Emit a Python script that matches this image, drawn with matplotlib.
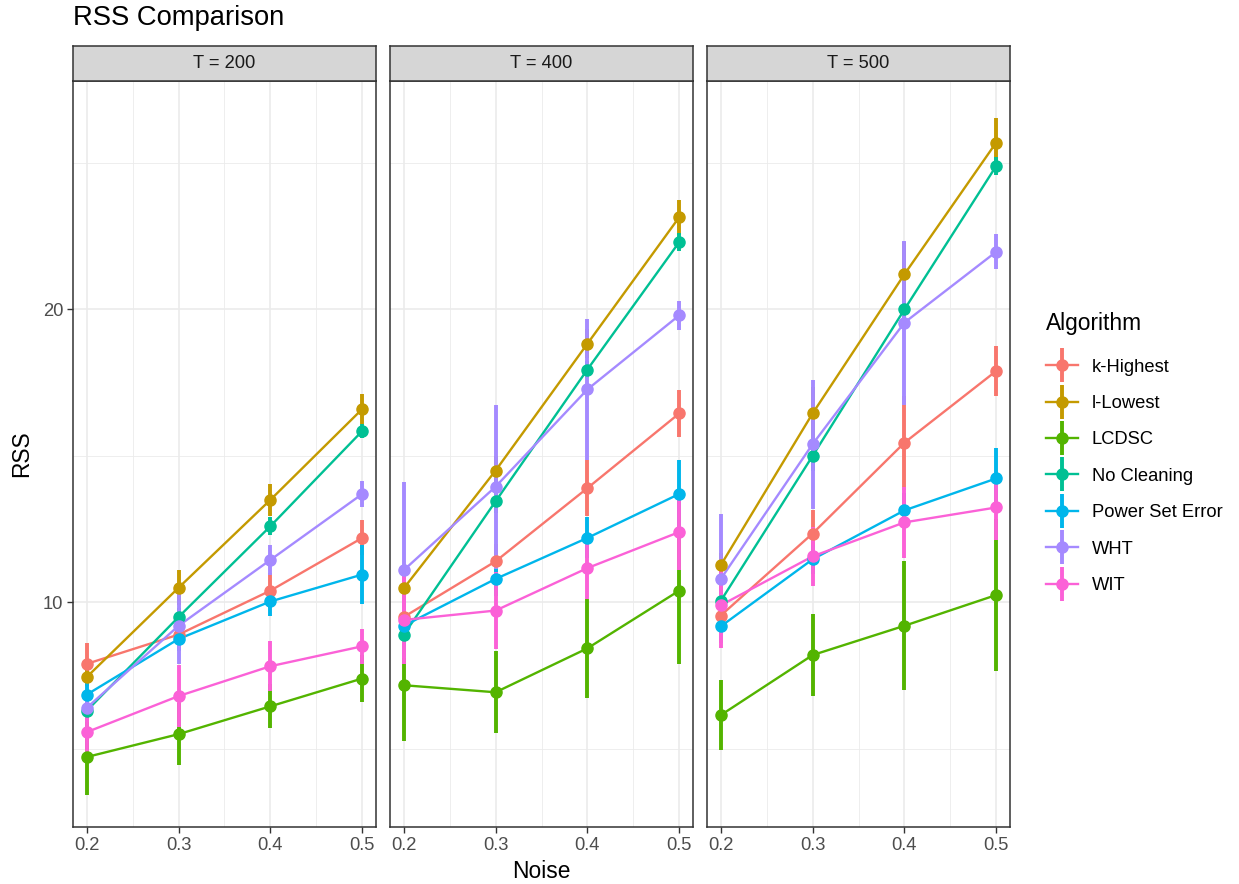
import matplotlib

matplotlib.use("Agg")
import matplotlib.pyplot as plt
from matplotlib.lines import Line2D
from matplotlib.ticker import FixedLocator

plt.rcParams["font.family"] = ["Liberation Sans", "DejaVu Sans"]

ALGORITHMS = ["k-Highest", "l-Lowest", "LCDSC", "No Cleaning", "Power Set Error", "WHT", "WIT"]
COLORS = ["#F8766D", "#C49A00", "#53B400", "#00C094", "#00B6EB", "#A58AFF", "#FB61D7"]
NOISE = [0.2, 0.3, 0.4, 0.5]
PANELS = ["T = 200", "T = 400", "T = 500"]

# mean RSS per algorithm (rows) and noise level (cols)
T200_MEAN = [
    [7.9, 8.9, 10.4, 12.2],
    [7.45, 10.5, 13.5, 16.6],
    [4.72, 5.5, 6.45, 7.4],
    [6.3, 9.5, 12.6, 15.85],
    [6.85, 8.75, 10.03, 10.95],
    [6.4, 9.2, 11.45, 13.7],
    [5.57, 6.8, 7.82, 8.5],
]
T200_ERR = [
    [0.7, 0.5, 0.6, 0.6],
    [0.3, 0.6, 0.55, 0.5],
    [1.3, 1.05, 0.75, 0.8],
    [0.3, 0.3, 0.3, 0.25],
    [0.4, 0.4, 0.5, 1.0],
    [0.5, 1.3, 0.5, 0.45],
    [0.8, 1.05, 0.85, 0.6],
]
T400_MEAN = [
    [9.5, 11.4, 13.9, 16.45],
    [10.48, 14.5, 18.83, 23.15],
    [7.17, 6.93, 8.43, 10.4],
    [8.9, 13.45, 17.95, 22.3],
    [9.2, 10.8, 12.2, 13.7],
    [11.1, 13.95, 17.27, 19.8],
    [9.4, 9.72, 11.17, 12.4],
]
T400_ERR = [
    [0.8, 0.6, 0.95, 0.8],
    [0.6, 0.5, 0.5, 0.6],
    [1.9, 1.4, 1.7, 2.5],
    [0.4, 0.4, 0.3, 0.3],
    [0.5, 0.6, 0.7, 1.15],
    [3.0, 2.8, 2.4, 0.5],
    [1.5, 1.3, 1.05, 1.3],
]
T500_MEAN = [
    [9.55, 12.35, 15.45, 17.9],
    [11.27, 16.45, 21.2, 25.7],
    [6.15, 8.2, 9.2, 10.25],
    [10.05, 15.0, 20.0, 24.9],
    [9.18, 11.47, 13.14, 14.23],
    [10.8, 15.4, 19.55, 21.97],
    [9.9, 11.57, 12.73, 13.24],
]
T500_ERR = [
    [0.5, 0.8, 1.6, 0.85],
    [0.4, 0.9, 1.1, 0.85],
    [1.2, 1.4, 2.2, 2.6],
    [0.3, 0.5, 0.3, 0.3],
    [0.4, 0.5, 0.6, 1.05],
    [2.2, 2.2, 2.8, 0.6],
    [1.45, 1.0, 1.2, 1.1],
]

W, H = 1239, 884
BASE, SMALL, BIG = 16.4, 13.2, 19.7

fig = plt.figure(figsize=(W / 100, H / 100), dpi=100)


def fx(px):
    return px / W


def fy(py):
    return 1 - py / H


panel_left = [73, 390, 707]
panel_w = 303
top, bottom, strip_top = 81, 827, 46

data = [(T200_MEAN, T200_ERR), (T400_MEAN, T400_ERR), (T500_MEAN, T500_ERR)]
for i, (label, (means, errs)) in enumerate(zip(PANELS, data)):
    left = panel_left[i]
    ax = fig.add_axes([fx(left), fy(bottom), fx(panel_w), (bottom - top) / H])
    ax.set_xlim(0.185, 0.515)
    ax.set_ylim(2.33, 27.8)
    ax.xaxis.set_major_locator(FixedLocator(NOISE))
    ax.xaxis.set_minor_locator(FixedLocator([0.25, 0.35, 0.45]))
    ax.yaxis.set_major_locator(FixedLocator([10, 20]))
    ax.yaxis.set_minor_locator(FixedLocator([5, 15, 25]))
    ax.grid(True, which="major", color="#EBEBEB", lw=1.2)
    ax.grid(True, which="minor", color="#EBEBEB", lw=0.6)
    ax.set_axisbelow(True)
    for sp in ax.spines.values():
        sp.set_color("#333333")
        sp.set_linewidth(1.1)
    ax.tick_params(which="major", length=4, width=1.0, color="#333333",
                   labelsize=SMALL, labelcolor="#4D4D4D", pad=3)
    ax.tick_params(which="minor", length=0)
    ax.set_xticklabels(["0.2", "0.3", "0.4", "0.5"])
    if i == 0:
        ax.set_yticklabels(["10", "20"])
    else:
        ax.tick_params(axis="y", which="both", left=False, labelleft=False)

    for j, alg in enumerate(ALGORITHMS):
        ax.plot(NOISE, means[j], color=COLORS[j], lw=1.7, zorder=2)
    for j, alg in enumerate(ALGORITHMS):
        ax.errorbar(NOISE, means[j], yerr=errs[j], fmt="o", color=COLORS[j],
                    ms=8, elinewidth=2.8, capsize=0, zorder=3)

    sax = fig.add_axes([fx(left), fy(top), fx(panel_w), (top - strip_top) / H])
    sax.set_facecolor("#D6D6D6")
    sax.set_xticks([])
    sax.set_yticks([])
    for sp in sax.spines.values():
        sp.set_color("#333333")
        sp.set_linewidth(1.1)
    sax.text(0.5, 0.5, label, ha="center", va="center", fontsize=SMALL, color="#1A1A1A",
             transform=sax.transAxes)

fig.text(fx(73), fy(18), "RSS Comparison", fontsize=BIG, color="black", ha="left", va="center")
fig.text(fx(541), fy(871), "Noise", fontsize=BASE, color="black", ha="center", va="center")
fig.text(fx(22), fy(454), "RSS", fontsize=BASE, color="black", ha="center", va="center",
         rotation=90)

handles = []
for c in COLORS:
    h_line = Line2D([], [], color=c, lw=1.7, marker="o", ms=8)
    v_bar = Line2D([], [], color=c, lw=0, marker="|", ms=24, mew=2.8)
    handles.append((h_line, v_bar))
leg = fig.legend(handles, ALGORITHMS, loc="upper left", bbox_to_anchor=(fx(1046), fy(312)),
                 frameon=False, fontsize=SMALL, title="Algorithm", title_fontsize=BASE,
                 labelspacing=1.06, handlelength=1.75, handletextpad=0.75, borderpad=0,
                 borderaxespad=0, alignment="left")
leg._legend_box.sep = 17

fig.savefig("out.png", dpi=100)
